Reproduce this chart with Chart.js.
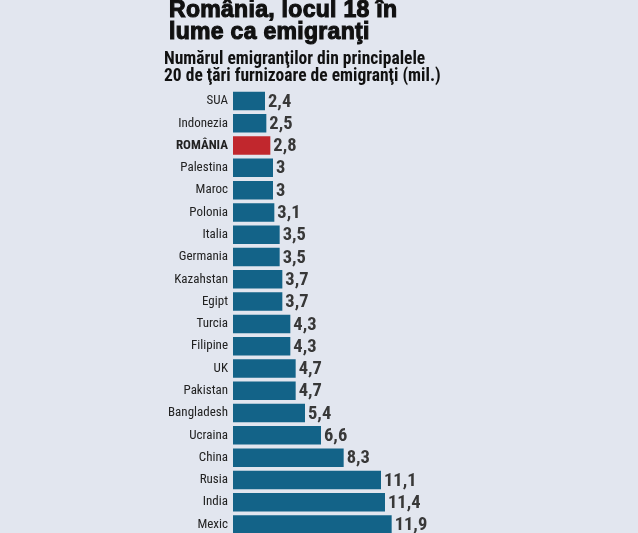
<!DOCTYPE html>
<html><head><meta charset="utf-8">
<script src="https://cdn.jsdelivr.net/npm/chart.js@4/dist/chart.umd.min.js"></script>
<style>
html,body{margin:0;padding:0;background:#e2e6ef;overflow:hidden;width:638px;height:533px;}
#wrap{position:absolute;left:0;top:0;width:638px;height:560px;}
.t{position:absolute;left:168px;color:#111;white-space:nowrap;}
#t1{top:-1px;left:169px;font:bold 23px/21.5px "Liberation Sans",Arial,sans-serif;-webkit-text-stroke:1.1px #111;letter-spacing:0.3px;}
#t2{top:50px;left:164px;font:bold 17.5px/17px "Roboto Condensed","DejaVu Sans Condensed",sans-serif;}
</style></head>
<body>
<div id="wrap"><canvas id="c" width="638" height="560"></canvas></div>
<div class="t" id="t1">România, locul 18 în<br>lume ca emigranţi</div>
<div class="t" id="t2">Numărul emigranţilor din principalele<br>20 de ţări furnizoare de emigranţi (mil.)</div>
<script>
const countries = ["SUA","Indonezia","ROMÂNIA","Palestina","Maroc","Polonia","Italia","Germania","Kazahstan","Egipt","Turcia","Filipine","UK","Pakistan","Bangladesh","Ucraina","China","Rusia","India","Mexic"];
const emigrants = [2.4,2.5,2.8,3,3,3.1,3.5,3.5,3.7,3.7,4.3,4.3,4.7,4.7,5.4,6.6,8.3,11.1,11.4,11.9];
const valueLabels = ["2,4","2,5","2,8","3","3","3,1","3,5","3,5","3,7","3,7","4,3","4,3","4,7","4,7","5,4","6,6","8,3","11,1","11,4","11,9"];
const highlight = "ROMÂNIA";

const BLUE = "#136388", RED = "#c1272d";
const FONT = '"Roboto Condensed","DejaVu Sans Condensed",sans-serif';
const valuePlugin = {
  id: "values",
  afterDatasetsDraw(chart) {
    const ctx = chart.ctx;
    const meta = chart.getDatasetMeta(0);
    ctx.save();
    ctx.font = 'bold 18.5px ' + FONT;
    ctx.fillStyle = "#383838";
    ctx.textBaseline = "middle";
    ctx.textAlign = "left";
    meta.data.forEach((bar, i) => {
      ctx.fillText(valueLabels[i], bar.x + 3, bar.y + 1);
    });
    ctx.restore();
  }
};

new Chart(document.getElementById("c"), {
  type: "bar",
  data: {
    labels: countries,
    datasets: [{
      data: emigrants,
      backgroundColor: countries.map(c => c === highlight ? RED : BLUE),
      borderWidth: 0,
      categoryPercentage: 0.83,
      barPercentage: 1
    }]
  },
  options: {
    indexAxis: "y",
    responsive: false,
    animation: false,
    layout: { padding: { top: 89.85, bottom: 24.35, left: 0, right: 205 } },
    plugins: { legend: { display: false }, tooltip: { enabled: false }, title: { display: false } },
    scales: {
      x: { display: false, min: 0, max: 15 },
      y: {
        grid: { display: false, drawTicks: false },
        border: { display: false },
        afterFit(scale) { scale.width = 233; },
        ticks: {
          padding: 5,
          color: "#222",
          font: (ctx) => ({
            family: FONT,
            size: 13,
            weight: countries[ctx.index] === highlight ? "bold" : "normal"
          })
        }
      }
    }
  },
  plugins: [valuePlugin]
});
</script>
</body></html>
